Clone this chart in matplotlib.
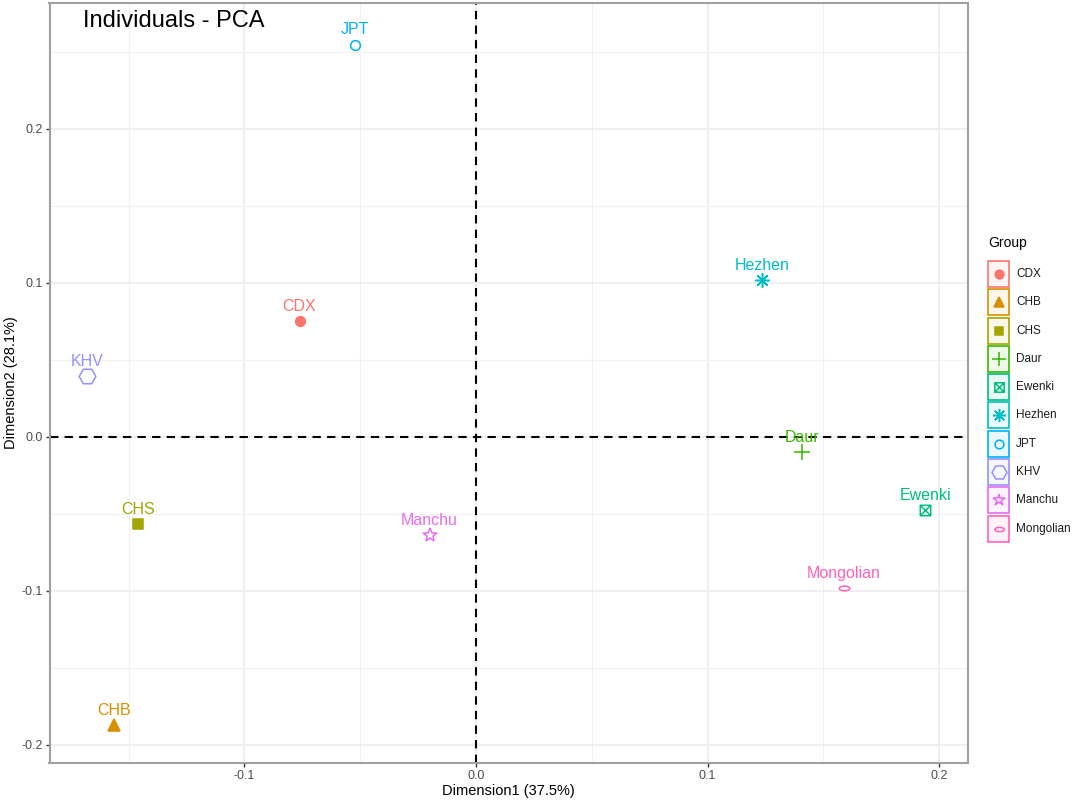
import numpy as np
import matplotlib
matplotlib.use("Agg")
import matplotlib.pyplot as plt
from matplotlib.path import Path
from matplotlib.patches import Rectangle

plt.rcParams['font.family'] = ['Liberation Sans', 'DejaVu Sans']

# PCA coordinates
groups = ['CDX', 'CHB', 'CHS', 'Daur', 'Ewenki', 'Hezhen', 'JPT', 'KHV', 'Manchu', 'Mongolian']
dim1 = [-0.0762, -0.1563, -0.1458, 0.1408, 0.1940, 0.1234, -0.0523, -0.1680, -0.0200, 0.1590]
dim2 = [0.0752, -0.1873, -0.0565, -0.0097, -0.0473, 0.1022, 0.2548, 0.0395, -0.0635, -0.0979]

xticks = [-0.1, 0.0, 0.1, 0.2]
yticks = [-0.2, -0.1, 0.0, 0.1, 0.2]
xlabel = 'Dimension1 (37.5%)'
ylabel = 'Dimension2 (28.1%)'

colors = ['#F8766D', '#D89000', '#A3A500', '#39B600', '#00BF7D',
          '#00BFC4', '#00B0F6', '#9590FF', '#E76BF3', '#FF62BC']

# custom markers: boxed X and flat ellipse
box_x = Path([(-1, -1), (1, -1), (1, 1), (-1, 1), (-1, -1), (-1, -1), (1, 1), (-1, 1), (1, -1)],
             [Path.MOVETO, Path.LINETO, Path.LINETO, Path.LINETO, Path.CLOSEPOLY,
              Path.MOVETO, Path.LINETO, Path.MOVETO, Path.LINETO])
t = np.linspace(0, 2 * np.pi, 40)
flat_ell = Path(np.column_stack([np.cos(t), 0.45 * np.sin(t)]), closed=True)

# marker, size (pt), filled
styles = [('o', 7, True), ('^', 8, True), ('s', 6.5, True), ('+', 11, False),
          (box_x, 7.5, False), ((8, 2, 0), 10.5, False), ('o', 7, False),
          ('H', 12, False), ('*', 10, False), (flat_ell, 7.5, False)]

W, H = 1072, 805
fig = plt.figure(figsize=(W / 100, H / 100), dpi=100)
ax = fig.add_axes([49.5 / W, 1 - 762.7 / H, (968 - 49.5) / W, (762.7 - 3) / H])

ax.set_xlim(-0.1842, 0.2125)
ax.set_ylim(-0.2115, 0.2818)
ax.set_xticks(xticks)
ax.set_xticklabels(['-0.1', '0.0', '0.1', '0.2'])
ax.set_yticks(yticks)
ax.set_yticklabels(['-0.2', '-0.1', '0.0', '0.1', '0.2'])
ax.set_xticks([-0.15, -0.05, 0.05, 0.15], minor=True)
ax.set_yticks([-0.15, -0.05, 0.05, 0.15, 0.25], minor=True)
ax.grid(True, which='major', color='#EBEBEB', lw=1.1)
ax.grid(True, which='minor', color='#F2F2F2', lw=0.8)
ax.set_axisbelow(True)
ax.tick_params(which='major', length=3, width=1, color='#333333', labelcolor='#4D4D4D',
               labelsize=9, pad=2)
ax.tick_params(which='minor', length=0)
for s in ax.spines.values():
    s.set_color('#A0A0A0')
    s.set_linewidth(1.5)

ax.axhline(0, color='black', ls=(0, (4, 3)), lw=1.5, zorder=2)
ax.axvline(0, color='black', ls=(0, (4, 3)), lw=1.5, zorder=2)

for g, x, y, c, (m, ms, filled) in zip(groups, dim1, dim2, colors, styles):
    ax.plot([x], [y], ls='none', marker=m, ms=ms, mec=c,
            mfc=c if filled else 'none', mew=1.1, zorder=3)
    ax.annotate(g, (x, y), xytext=(0, 10.5), textcoords='offset points',
                ha='center', va='center', color=c, fontsize=11.5, zorder=4)

ax.set_xlabel(xlabel, fontsize=10.5, labelpad=2)
ax.set_ylabel(ylabel, fontsize=10.5, labelpad=2)

fig.text(83 / W, 1 - 27 / H, 'Individuals - PCA', fontsize=17, ha='left', va='baseline')

# legend drawn by hand to get the coloured key boxes
lax = fig.add_axes([975 / W, 1 - 545 / H, (W - 975) / W, 320 / H])
lax.set_xlim(975, W)
lax.set_ylim(545, 225)
lax.axis('off')
lax.text(988, 243, 'Group', fontsize=10, ha='left', va='center')
for i, (g, c, (m, ms, filled)) in enumerate(zip(groups, colors, styles)):
    cy = 274 + i * 28.3
    lax.add_patch(Rectangle((988, cy - 13), 21, 26, facecolor=c, alpha=0.08, lw=0))
    lax.add_patch(Rectangle((988, cy - 13), 21, 26, facecolor='none', edgecolor=c, lw=1.2))
    lax.plot([998.5], [cy], ls='none', marker=m, ms=ms * 0.9, mec=c,
             mfc=c if filled else 'none', mew=1.1)
    lax.text(1016, cy, g, fontsize=8.5, ha='left', va='center', color='#1A1A1A')

fig.savefig('out.png', dpi=100)
